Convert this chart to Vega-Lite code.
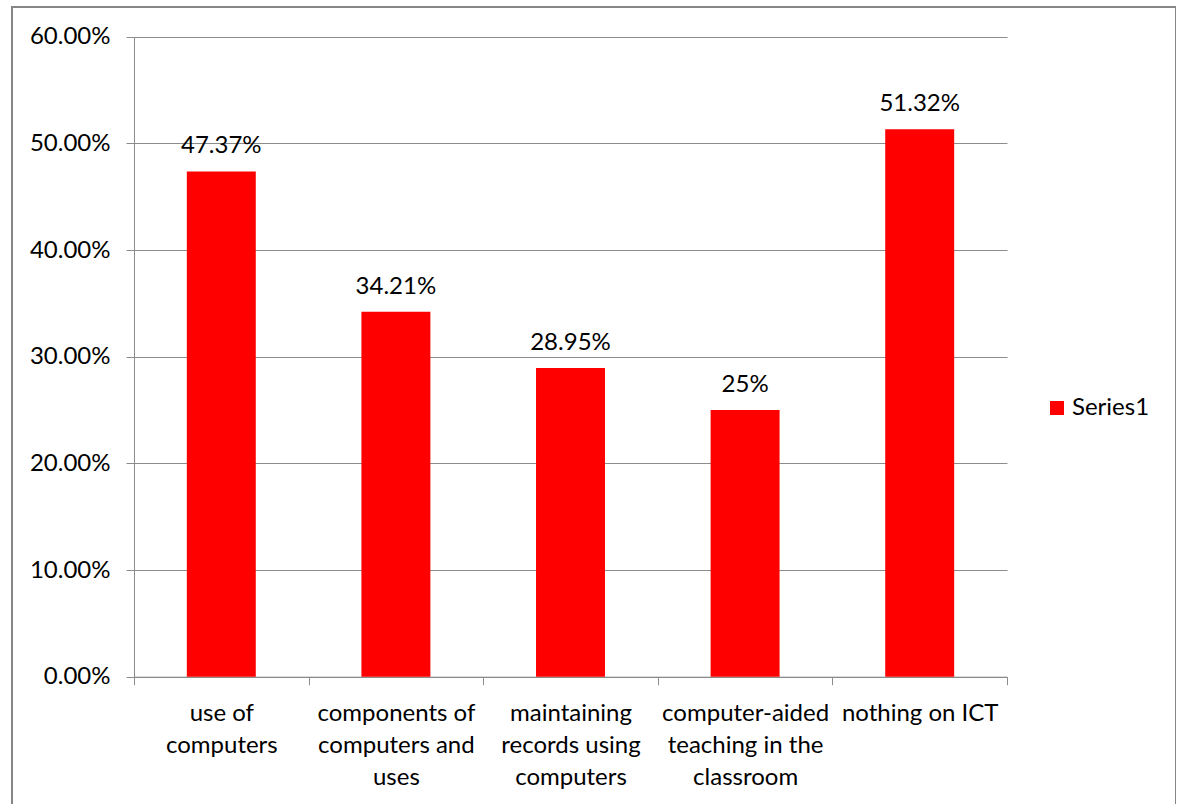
{
  "$schema": "https://vega.github.io/schema/vega-lite/v6.json",
  "width": 1164,
  "height": 800,
  "autosize": {"type": "none"},
  "padding": {"left": 12, "top": 7, "right": 0, "bottom": 0},
  "background": "white",
  "config": {
    "view": {"stroke": "#868686", "strokeWidth": 2},
    "font": "Lato"
  },
  "data": {
    "values": [
      {"topic": "use of|computers", "share": 0.4737, "label": "47.37%"},
      {"topic": "components of|computers and|uses", "share": 0.3421, "label": "34.21%"},
      {"topic": "maintaining|records using|computers", "share": 0.2895, "label": "28.95%"},
      {"topic": "computer-aided|teaching in the|classroom", "share": 0.25, "label": "25%"},
      {"topic": "nothing on ICT", "share": 0.5132, "label": "51.32%"}
    ]
  },
  "encoding": {
    "x": {
      "field": "topic",
      "type": "nominal",
      "sort": null,
      "scale": {"range": [122, 995], "paddingInner": 0, "paddingOuter": 0},
      "axis": {
        "title": null,
        "offset": -130.3,
        "tickBand": "extent",
        "labelAngle": 0,
        "labelExpr": "split(datum.label, '|')",
        "labelFontSize": 24,
        "labelColor": "black",
        "labelLineHeight": 32,
        "labelBaseline": "top",
        "labelPadding": 17,
        "labelLimit": 0,
        "labelOverlap": false,
        "tickSize": 8,
        "tickColor": "#8c8c8c",
        "domainColor": "#8c8c8c",
        "grid": false
      }
    },
    "y": {
      "field": "share",
      "type": "quantitative",
      "scale": {"domain": [0, 0.6], "range": [669.7, 29.7], "nice": false, "zero": true},
      "axis": {
        "title": null,
        "offset": -122,
        "values": [0, 0.1, 0.2, 0.3, 0.4, 0.5, 0.6],
        "format": ".2%",
        "labelFontSize": 24,
        "labelColor": "black",
        "labelPadding": 16,
        "tickSize": 8,
        "tickColor": "#8c8c8c",
        "domainColor": "#8c8c8c",
        "grid": true,
        "gridColor": "#8c8c8c",
        "gridWidth": 1
      }
    }
  },
  "layer": [
    {
      "mark": {"type": "bar", "width": {"band": 0.395}},
      "encoding": {
        "color": {
          "datum": "Series1",
          "scale": {"range": ["#ff0000"]},
          "legend": {
            "title": null,
            "orient": "none",
            "legendX": 1033,
            "legendY": 389,
            "padding": 0,
            "symbolType": "square",
            "symbolSize": 196,
            "symbolStrokeWidth": 0,
            "labelFontSize": 24,
            "labelColor": "black",
            "labelOffset": 3
          }
        }
      }
    },
    {
      "mark": {"type": "text", "dy": -18, "baseline": "alphabetic", "align": "center", "fontSize": 24, "color": "black"},
      "encoding": {"text": {"field": "label"}}
    }
  ]
}
